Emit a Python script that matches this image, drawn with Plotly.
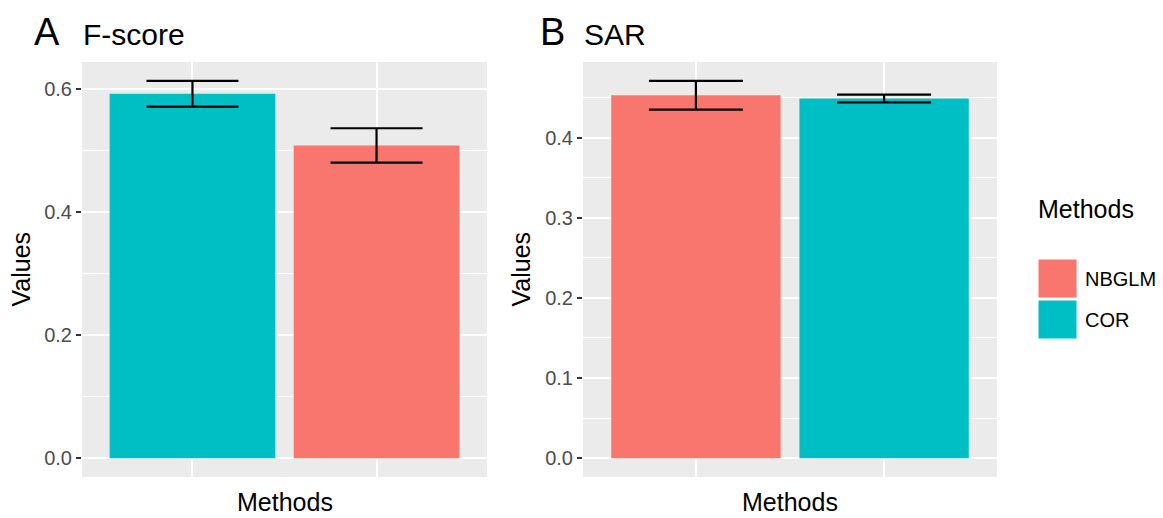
import plotly.graph_objects as go

# Panel A: F-score
fscore_methods = ["COR", "NBGLM"]
fscore_values = [0.592, 0.508]
fscore_errors = [0.021, 0.028]

# Panel B: SAR
sar_methods = ["NBGLM", "COR"]
sar_values = [0.453, 0.449]
sar_errors = [0.018, 0.0048]

legend_order = ["NBGLM", "COR"]
colors = {"NBGLM": "#F8766D", "COR": "#00BFC4"}

W, H = 1163, 518
FONT = "Liberation Sans, Arial, sans-serif"

# plot-area pixel boxes (left, right, top, bottom)
panelA = (82, 487, 62, 477)
panelB = (583, 997, 62, 477)


def px_x(x):
    return x / W


def px_y(y):
    return 1 - y / H


def yrange(values, errors):
    hi = max(v + e for v, e in zip(values, errors))
    lo = 0.0
    pad = 0.05 * (hi - lo)
    return [lo - pad, hi + pad]


fig = go.Figure()

for methods, values, errors, xa, ya, half in [
    (fscore_methods, fscore_values, fscore_errors, "x", "y", 46),
    (sar_methods, sar_values, sar_errors, "x2", "y2", 47),
]:
    fig.add_trace(go.Bar(
        x=methods, y=values,
        marker=dict(color=[colors[m] for m in methods], line=dict(width=0)),
        width=0.9,
        error_y=dict(type="data", array=errors, color="black", thickness=2.2, width=half),
        xaxis=xa, yaxis=ya, showlegend=False, hoverinfo="x+y",
    ))

grid_major = dict(showgrid=True, gridcolor="white", gridwidth=2.4)
tick_style = dict(ticks="outside", ticklen=5, tickwidth=1.6, tickcolor="#333333",
                  tickfont=dict(size=20, color="#4D4D4D", family=FONT))

fig.update_layout(
    width=W, height=H,
    margin=dict(l=0, r=0, t=0, b=0),
    paper_bgcolor="white",
    plot_bgcolor="#EBEBEB",
    font=dict(family=FONT, color="black"),
    bargap=0.1,
    xaxis=dict(domain=[px_x(panelA[0]), px_x(panelA[1])], anchor="y",
               type="category", range=[-0.6, 1.6], showticklabels=False,
               ticks="", zeroline=False, showline=False, **grid_major),
    yaxis=dict(domain=[px_y(panelA[3]), px_y(panelA[2])], anchor="x",
               range=yrange(fscore_values, fscore_errors), dtick=0.2, tickformat=".1f",
               zeroline=False, showline=False,
               minor=dict(showgrid=True, gridcolor="white", gridwidth=1.2, dtick=0.1),
               **grid_major, **tick_style),
    xaxis2=dict(domain=[px_x(panelB[0]), px_x(panelB[1])], anchor="y2",
                type="category", range=[-0.6, 1.6], showticklabels=False,
                ticks="", zeroline=False, showline=False, **grid_major),
    yaxis2=dict(domain=[px_y(panelB[3]), px_y(panelB[2])], anchor="x2",
                range=yrange(sar_values, sar_errors), dtick=0.1, tickformat=".1f",
                zeroline=False, showline=False,
                minor=dict(showgrid=True, gridcolor="white", gridwidth=1.2, dtick=0.05),
                **grid_major, **tick_style),
)

ann = []
# panel tags and titles
ann.append(dict(text="A", x=px_x(32), y=px_y(47), xanchor="left", yanchor="bottom",
                font=dict(size=38, family=FONT, color="black"), yshift=-8))
ann.append(dict(text="F-score", x=px_x(81), y=px_y(47), xanchor="left", yanchor="bottom",
                font=dict(size=30, family=FONT, color="black"), yshift=-6))
ann.append(dict(text="B", x=px_x(538), y=px_y(47), xanchor="left", yanchor="bottom",
                font=dict(size=38, family=FONT, color="black"), yshift=-8))
ann.append(dict(text="SAR", x=px_x(582), y=px_y(47), xanchor="left", yanchor="bottom",
                font=dict(size=30, family=FONT, color="black"), yshift=-6))

# axis titles
for (l, r, t, b), xlab in [(panelA, 20), (panelB, 520)]:
    ann.append(dict(text="Methods", x=px_x((l + r) / 2), y=0, xanchor="center",
                    yanchor="bottom", font=dict(size=25, family=FONT, color="black")))
    ann.append(dict(text="Values", x=px_x(xlab), y=px_y((t + b) / 2), xanchor="center",
                    yanchor="middle", textangle=-90,
                    font=dict(size=25, family=FONT, color="black")))

# legend
ann.append(dict(text="Methods", x=px_x(1036), y=px_y(209), xanchor="left", yanchor="middle",
                font=dict(size=25, family=FONT, color="black")))
shapes = []
key_top = 259
key_size = 39
for i, m in enumerate(legend_order):
    top = key_top + i * (key_size + 2)
    shapes.append(dict(type="rect", xref="paper", yref="paper",
                       x0=px_x(1038), x1=px_x(1038 + key_size),
                       y0=px_y(top + key_size), y1=px_y(top),
                       fillcolor=colors[m], line=dict(color="white", width=1)))
    ann.append(dict(text=m, x=px_x(1083), y=px_y(top + key_size / 2), xanchor="left",
                    yanchor="middle", font=dict(size=20, family=FONT, color="black")))

for a in ann:
    a.update(xref="paper", yref="paper", showarrow=False)

fig.update_layout(annotations=ann, shapes=shapes)

fig.write_html("out.html")
